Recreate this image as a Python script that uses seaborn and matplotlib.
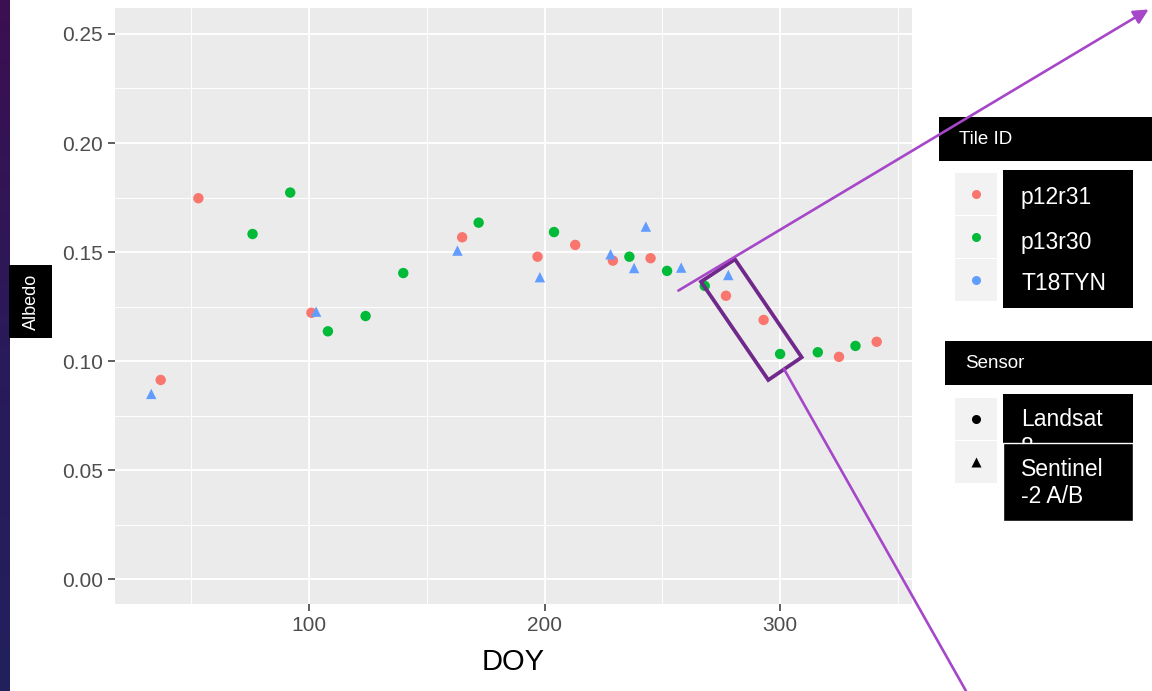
import numpy as np
import pandas as pd
import matplotlib
matplotlib.use("Agg")
import matplotlib.pyplot as plt
import seaborn as sns
from matplotlib.patches import Rectangle, Polygon, FancyArrowPatch
from matplotlib.lines import Line2D
from matplotlib.colors import LinearSegmentedColormap

# ---------------- data ----------------
doy_p12r31 = [37, 53, 101, 165, 197, 213, 229, 245, 277, 293, 325, 341]
alb_p12r31 = [0.0914, 0.1747, 0.1222, 0.1568, 0.1479, 0.1533, 0.1461, 0.1472,
              0.1300, 0.1189, 0.1020, 0.1089]
doy_p13r30 = [76, 92, 108, 124, 140, 172, 204, 236, 252, 268, 300, 316, 332]
alb_p13r30 = [0.1583, 0.1773, 0.1137, 0.1207, 0.1404, 0.1635, 0.1592, 0.1479,
              0.1414, 0.1345, 0.1033, 0.1041, 0.1070]
doy_t18tyn = [33, 103, 163, 198, 228, 238, 243, 258, 278]
alb_t18tyn = [0.0850, 0.1227, 0.1507, 0.1385, 0.1490, 0.1427, 0.1617, 0.1429, 0.1395]

tiles = ["p12r31", "p13r30", "T18TYN"]
sensors = ["Landsat 8", "Sentinel-2 A/B"]
tile_colors = ["#F8766D", "#00BA38", "#619CFF"]
x_ticks = [100, 200, 300]
y_ticks = [0.00, 0.05, 0.10, 0.15, 0.20, 0.25]

df = pd.concat([
    pd.DataFrame({"DOY": doy_p12r31, "Albedo": alb_p12r31, "Tile": "p12r31", "Sensor": "Landsat 8"}),
    pd.DataFrame({"DOY": doy_p13r30, "Albedo": alb_p13r30, "Tile": "p13r30", "Sensor": "Landsat 8"}),
    pd.DataFrame({"DOY": doy_t18tyn, "Albedo": alb_t18tyn, "Tile": "T18TYN", "Sensor": "Sentinel-2 A/B"}),
], ignore_index=True)

# ---------------- style ----------------
sns.set_theme(style="darkgrid", rc={
    "axes.facecolor": "#EBEBEB",
    "figure.facecolor": "white",
    "grid.color": "white",
})
plt.rcParams["font.family"] = ["Liberation Sans", "DejaVu Sans"]

W, H = 1152, 691
fig = plt.figure(figsize=(W / 100, H / 100), dpi=100)

def fx(x):
    return x / W

def fy(y):
    return 1 - y / H

ax = fig.add_axes([fx(115), fy(604), (912 - 115) / W, (604 - 8) / H])

sns.scatterplot(data=df, x="DOY", y="Albedo", hue="Tile", style="Sensor",
                hue_order=tiles, style_order=sensors,
                palette=dict(zip(tiles, tile_colors)),
                markers={"Landsat 8": "o", "Sentinel-2 A/B": "^"},
                s=56, linewidth=0, edgecolor="none", legend=False, ax=ax, zorder=3)

ax.set_xlim(17.6, 356.0)
ax.set_ylim(-0.0113, 0.2619)
ax.set_xticks(x_ticks)
ax.set_xticks([50, 150, 250, 350], minor=True)
ax.set_yticks(y_ticks)
ax.set_yticks([0.025, 0.075, 0.125, 0.175, 0.225], minor=True)
ax.set_xticklabels([str(v) for v in x_ticks])
ax.set_yticklabels([f"{v:.2f}" for v in y_ticks])
ax.grid(which="major", color="white", lw=1.3)
ax.grid(which="minor", color="white", lw=0.65)
ax.tick_params(which="major", length=4.8, width=1.1, color="#333333",
               labelcolor="#4D4D4D", labelsize=15, pad=4,
               bottom=True, left=True)
ax.tick_params(which="minor", length=0)
for s in ax.spines.values():
    s.set_visible(False)
ax.set_xlabel("")
ax.set_ylabel("")
ax.set_axisbelow(True)

fig.text(fx(513.5), fy(662), "DOY", fontsize=21, color="black", ha="center", va="center")

# ---------------- left gradient strip ----------------
strip = fig.add_axes([0, 0, 10 / W, 1])
grad = np.linspace(0, 1, 256).reshape(-1, 1)
cm = LinearSegmentedColormap.from_list("strip", ["#3C0F50", "#2A1A5A", "#22205E"])
strip.imshow(grad, aspect="auto", cmap=cm, extent=[0, 1, 0, 1], origin="upper")
strip.axis("off")

# ---------------- helpers ----------------
def box(x0, y0, x1, y1, z=5, fc="black", ec="none", lw=0):
    r = Rectangle((fx(x0), fy(y1)), (x1 - x0) / W, (y1 - y0) / H,
                  transform=fig.transFigure, fc=fc, ec=ec, lw=lw, zorder=z)
    fig.add_artist(r)

def txt(x, y, s, size, z=6, **kw):
    fig.text(fx(x), fy(y), s, fontsize=size, color="white", zorder=z, **kw)

# ---------------- legend keys ----------------
for i, c in enumerate(tile_colors):
    y0 = 173 + i * 43
    box(955, y0, 997, y0 + 42, z=2, fc="#F2F2F2")
    fig.add_artist(Line2D([fx(975.5)], [fy(y0 + 21)], marker="o", ms=6.5, color=c,
                          mec="none", transform=fig.transFigure, zorder=3))
for i, m in enumerate(["o", "^"]):
    y0 = 398 + i * 43
    box(955, y0, 997, y0 + 42, z=2, fc="#F2F2F2")
    fig.add_artist(Line2D([fx(975.5)], [fy(y0 + 21)], marker=m, ms=6.5, color="black",
                          mec="none", transform=fig.transFigure, zorder=3))

# ---------------- black overlay boxes ----------------
box(939, 117, 1152, 161)
txt(959, 139, "Tile ID", 13.5, ha="left", va="center")
box(1003, 170, 1133, 308)
txt(1021, 197, "p12r31", 16.5, ha="left", va="center")
txt(1021, 243, "p13r30", 16.5, ha="left", va="center")
txt(1021, 284, "T18TYN", 16.5, ha="left", va="center")

box(945, 341, 1152, 385)
txt(965, 363, "Sensor", 13.5, ha="left", va="center")
box(1003, 394, 1133, 443, z=5)
txt(1021, 408, "Landsat\n8", 16.5, z=6, ha="left", va="top", linespacing=1.25)
box(1003, 443, 1133, 521, z=7, ec="white", lw=1)
txt(1021, 483, "Sentinel\n-2 A/B", 16.5, z=8, ha="left", va="center", linespacing=1.25)

box(9, 265, 52, 338)
txt(31, 302, "Albedo", 13, rotation=90, ha="center", va="center")

# ---------------- purple annotations ----------------
corners = [(701, 281.7), (735, 259.3), (801.7, 357.3), (768.3, 380)]
poly = Polygon([(fx(x), fy(y)) for x, y in corners], closed=True, fill=False,
               ec="#70288A", lw=2.7, transform=fig.transFigure, zorder=9)
fig.add_artist(poly)

arr = FancyArrowPatch((fx(676), fy(292)), (fx(1151), fy(8)), transform=fig.transFigure,
                      arrowstyle="-|>", mutation_scale=22, color="#A646C8", lw=1.9, zorder=9)
fig.add_artist(arr)
fig.add_artist(Line2D([fx(784), fx(966)], [fy(369), fy(691)], color="#A646C8", lw=1.9,
                      transform=fig.transFigure, zorder=9))

fig.savefig("out.png", dpi=100)
